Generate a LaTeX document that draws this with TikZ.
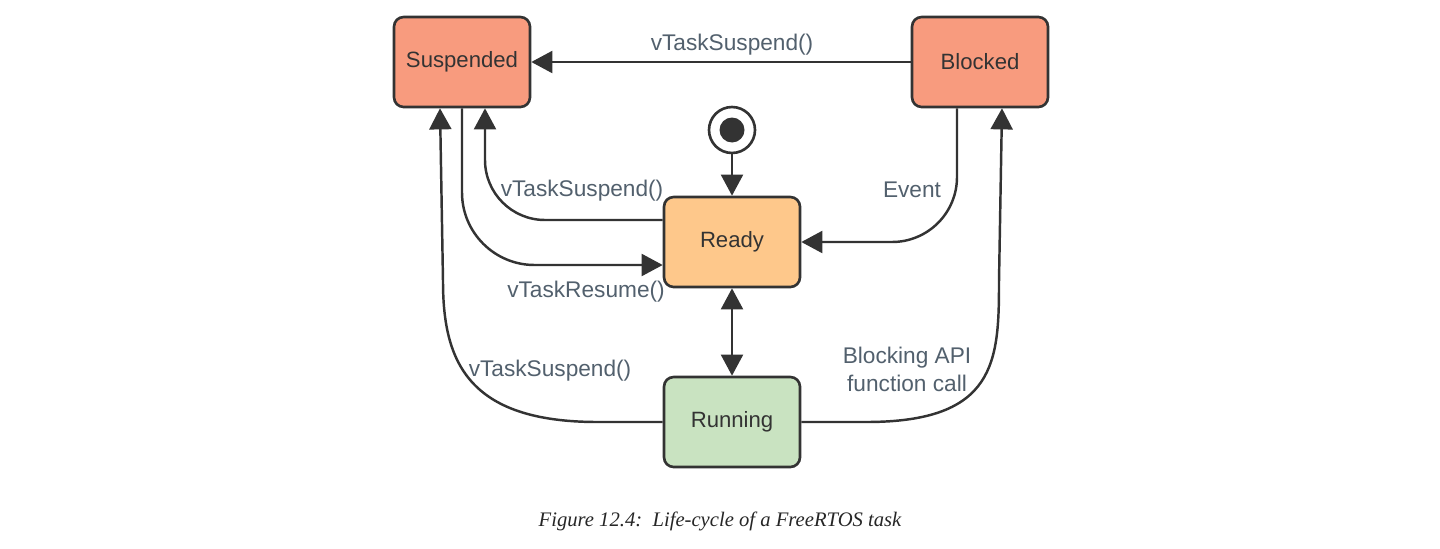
\documentclass[tikz,border=0pt]{standalone}
\usepackage{fontspec}
\setmainfont{Liberation Sans}
\newfontfamily\capfont{Liberation Serif}
\usepackage{tikz}
\usetikzlibrary{arrows.meta}
\usetikzlibrary{calc}
\definecolor{boxline}{HTML}{333333}
\definecolor{lbltext}{HTML}{52606D}
\definecolor{redfill}{HTML}{F89B7E}
\definecolor{readyfill}{HTML}{FEC88B}
\definecolor{runfill}{HTML}{C9E3C1}
\tikzset{>={Triangle[length=12pt,width=12.5pt]},
  state/.style={draw=boxline,line width=1.5pt,rounded corners=5.5pt,
    minimum width=2.72cm,minimum height=1.8cm,inner sep=0pt,
    text=boxline,font=\fontsize{12.6}{15}\selectfont},
  trans/.style={draw=boxline,line width=1.4pt},
  lbl/.style={text=lbltext,inner sep=0pt,align=center,
    font=\fontsize{12.9}{15.9}\selectfont}}

\begin{document}
\begin{tikzpicture}[x=0.02cm,y=-0.02cm]

  \useasboundingbox (0,0) rectangle (1440,548);

  % states
  \node [state,fill=redfill] (susp) at (462,62) {Suspended};
  \node [state,fill=redfill] (blk) at (980,62) {Blocked};
  \node [state,fill=readyfill] (ready) at (732,242) {Ready};
  \node [state,fill=runfill] (run) at (732,422) {Running};

  \node [draw=boxline,line width=1.5pt,circle,minimum size=0.92cm,inner sep=0pt] (init) at (732,130) {};
  \node [fill=boxline,circle,minimum size=0.5cm,inner sep=0pt] (initdot) at (init.center) {};

  % transitions
  \draw [trans,->] (blk) -- (susp);
  \draw [trans,->] (init) -- (ready);
  \draw [trans,<->] (ready) -- (run);

  \draw [trans,->,rounded corners=1.2cm] ($(ready.west)+(0,-22)$) -| ($(susp.south)+(23,0)$);
  \draw [trans,->,rounded corners=1.45cm] (susp.south) |- ($(ready.west)+(0,23)$);
  \draw [trans,->,rounded corners=1.3cm] ($(blk.south)+(-23,0)$) |- (ready.east);

  \draw [trans,->] (run.west) -- ++(-65,0)
    .. controls +(-130,0) and +(0,80) .. ($(susp.south)+(-19,173)$)
    -- ($(susp.south)+(-22,0)$);
  \draw [trans,->] (run.east) -- ++(65,0)
    .. controls +(130,0) and +(0,80) .. ($(blk.south)+(19,173)$)
    -- ($(blk.south)+(22,0)$);

  % labels
  \node [lbl] (ltop) at (732,45) {vTaskSuspend()};
  \node [lbl] (lready) at (582,191) {vTaskSuspend()};
  \node [lbl] (lresume) at (586,292) {vTaskResume()};
  \node [lbl] (levent) at (912,190) {Event};
  \node [lbl] (lrun) at (550,371) {vTaskSuspend()};
  \node [lbl] (lblock) at (907,369) {Blocking API\\function call};

  %\draw (720,500) node {caption};
  \node [font=\capfont\itshape\fontsize{11.75}{14}\selectfont,text=black!85] (cap) at (720,521)
    {Figure 12.4:\ \ Life-cycle of a FreeRTOS task};

\end{tikzpicture}
\end{document}
